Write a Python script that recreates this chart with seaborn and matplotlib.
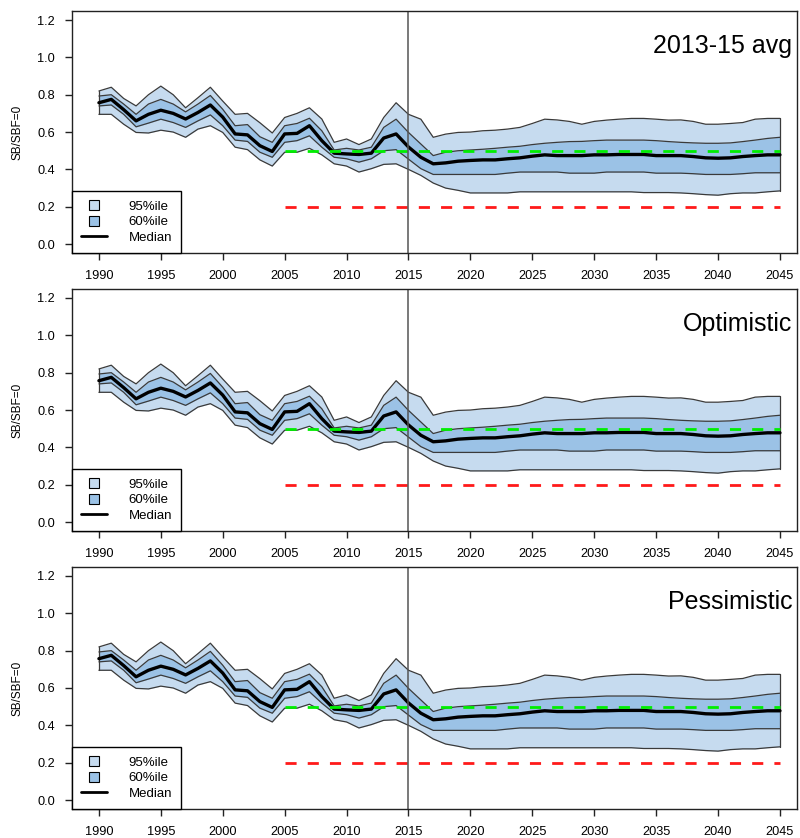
import numpy as np
import pandas as pd
import matplotlib
matplotlib.use('Agg')
import matplotlib.pyplot as plt
import seaborn as sns
from matplotlib.lines import Line2D

years = list(range(1990, 2046))

median = [0.757, 0.775, 0.72, 0.66, 0.695, 0.717, 0.70, 0.67, 0.705, 0.745,
          0.68, 0.59, 0.585, 0.527, 0.496, 0.59, 0.593, 0.634, 0.554, 0.487,
          0.483, 0.48, 0.487, 0.568, 0.59, 0.52,
          0.465, 0.43, 0.435, 0.444, 0.448, 0.451, 0.451, 0.457, 0.462, 0.471,
          0.478, 0.474, 0.474, 0.474, 0.478, 0.478, 0.48, 0.48, 0.48, 0.474,
          0.474, 0.474, 0.469, 0.462, 0.46, 0.462, 0.469, 0.474, 0.478, 0.478]

upper95 = [0.82, 0.84, 0.78, 0.74, 0.80, 0.846, 0.80, 0.73, 0.784, 0.84,
           0.766, 0.695, 0.70, 0.65, 0.595, 0.678, 0.70, 0.73, 0.67, 0.545,
           0.563, 0.533, 0.563, 0.678, 0.757, 0.695,
           0.669, 0.572, 0.589, 0.598, 0.60, 0.607, 0.61, 0.616, 0.625, 0.646,
           0.669, 0.665, 0.657, 0.642, 0.657, 0.664, 0.669, 0.673, 0.673, 0.669,
           0.664, 0.665, 0.657, 0.642, 0.642, 0.646, 0.651, 0.669, 0.673, 0.673]

lower95 = [0.695, 0.695, 0.642, 0.598, 0.595, 0.61, 0.60, 0.572, 0.616, 0.634,
           0.598, 0.519, 0.506, 0.451, 0.418, 0.492, 0.492, 0.513, 0.478, 0.43,
           0.418, 0.386, 0.404, 0.427, 0.43, 0.40,
           0.368, 0.327, 0.30, 0.288, 0.274, 0.274, 0.274, 0.274, 0.28, 0.28,
           0.28, 0.28, 0.28, 0.28, 0.28, 0.28, 0.28, 0.28, 0.276, 0.276,
           0.276, 0.274, 0.27, 0.265, 0.262, 0.27, 0.274, 0.274, 0.28, 0.285]

upper60 = [0.793, 0.80, 0.75, 0.695, 0.75, 0.775, 0.75, 0.708, 0.75, 0.796,
           0.722, 0.634, 0.64, 0.575, 0.545, 0.634, 0.646, 0.674, 0.607, 0.504,
           0.513, 0.504, 0.519, 0.625, 0.669, 0.598,
           0.536, 0.474, 0.492, 0.50, 0.504, 0.508, 0.513, 0.519, 0.524, 0.533,
           0.54, 0.545, 0.549, 0.55, 0.554, 0.557, 0.557, 0.557, 0.557, 0.554,
           0.549, 0.545, 0.542, 0.54, 0.54, 0.542, 0.549, 0.557, 0.566, 0.572]

lower60 = [0.74, 0.745, 0.695, 0.628, 0.648, 0.669, 0.651, 0.625, 0.66, 0.692,
           0.634, 0.557, 0.55, 0.492, 0.465, 0.545, 0.554, 0.58, 0.519, 0.465,
           0.457, 0.439, 0.457, 0.50, 0.506, 0.455,
           0.404, 0.373, 0.373, 0.373, 0.373, 0.373, 0.373, 0.38, 0.386, 0.386,
           0.386, 0.386, 0.38, 0.38, 0.38, 0.386, 0.386, 0.386, 0.386, 0.38,
           0.38, 0.38, 0.377, 0.373, 0.373, 0.373, 0.377, 0.382, 0.382, 0.382]

scenarios = ['2013-15 avg', 'Optimistic', 'Pessimistic']
ref_years = [2005, 2045]
target_ref = 0.5
limit_ref = 0.2
current_year = 2015

y_ticks = [0.0, 0.2, 0.4, 0.6, 0.8, 1.0, 1.2]
x_ticks = list(range(1990, 2050, 5))

df = pd.DataFrame({'Year': years, 'Median': median,
                   'U95': upper95, 'L95': lower95,
                   'U60': upper60, 'L60': lower60})

sns.set_style('white')
plt.rcParams['font.family'] = ['Liberation Sans', 'DejaVu Sans']
plt.rcParams['text.color'] = 'black'
plt.rcParams['axes.labelcolor'] = 'black'
plt.rcParams['xtick.color'] = 'black'
plt.rcParams['ytick.color'] = 'black'

light = '#c6dbef'
mid = '#9bc2e6'
edge = '#3a3a3a'

fig = plt.figure(figsize=(8, 8.38), dpi=100)
bottoms = [0.698, 0.3663, 0.0346]

for i, name in enumerate(scenarios):
    ax = fig.add_axes([0.0896, bottoms[i], 0.907, 0.2888])
    ax.fill_between(df['Year'], df['L95'], df['U95'], color=light, lw=0)
    ax.fill_between(df['Year'], df['L60'], df['U60'], color=mid, lw=0)
    for col in ['U95', 'L95', 'U60', 'L60']:
        sns.lineplot(data=df, x='Year', y=col, ax=ax, color=edge, lw=0.9)
    ax.plot([years[0], years[0]], [lower95[0], upper95[0]], color=edge, lw=0.9)
    ax.plot([years[-1], years[-1]], [lower95[-1], upper95[-1]], color=edge, lw=0.9)
    sns.lineplot(data=df, x='Year', y='Median', ax=ax, color='black', lw=2.4)

    ax.plot(ref_years, [target_ref, target_ref], color='#00ee00', lw=2,
            ls=(0, (4, 4)))
    ax.plot(ref_years, [limit_ref, limit_ref], color='#ff1a1a', lw=2,
            ls=(0, (4, 4)))
    ax.axvline(current_year, color='#555555', lw=1.1)

    ax.set_xlim(1987.8, 2046.4)
    ax.set_ylim(-0.048, 1.248)
    ax.set_xticks(x_ticks)
    ax.set_yticks(y_ticks)
    ax.set_yticklabels([f'{v:.1f}' for v in y_ticks])
    ax.tick_params(axis='both', direction='out', length=5, width=1,
                   color='#222222', labelsize=9.2, pad=7, left=True, bottom=True)
    for s in ax.spines.values():
        s.set_color('#222222')
        s.set_linewidth(1)
    ax.set_xlabel('')
    ax.set_ylabel('SB/SBF=0', fontsize=8.5)
    ax.yaxis.set_label_coords(-0.066, 0.5)

    ax.text(0.993, 0.855, name, transform=ax.transAxes, ha='right',
            va='center', fontsize=18)

    handles = [Line2D([], [], marker='s', ls='none', mfc=light, mec='black',
                      ms=7, mew=0.8),
               Line2D([], [], marker='s', ls='none', mfc=mid, mec='black',
                      ms=7, mew=0.8),
               Line2D([], [], color='black', lw=2)]
    leg = ax.legend(handles, ['95%ile', '60%ile', 'Median'], loc='lower left',
                    borderaxespad=0, fancybox=False, framealpha=1,
                    edgecolor='black', fontsize=9.5, handlelength=2.0,
                    handletextpad=1.6, labelspacing=0.25, borderpad=0.7)
    leg.get_frame().set_linewidth(1)

fig.savefig('out.png', dpi=100)
